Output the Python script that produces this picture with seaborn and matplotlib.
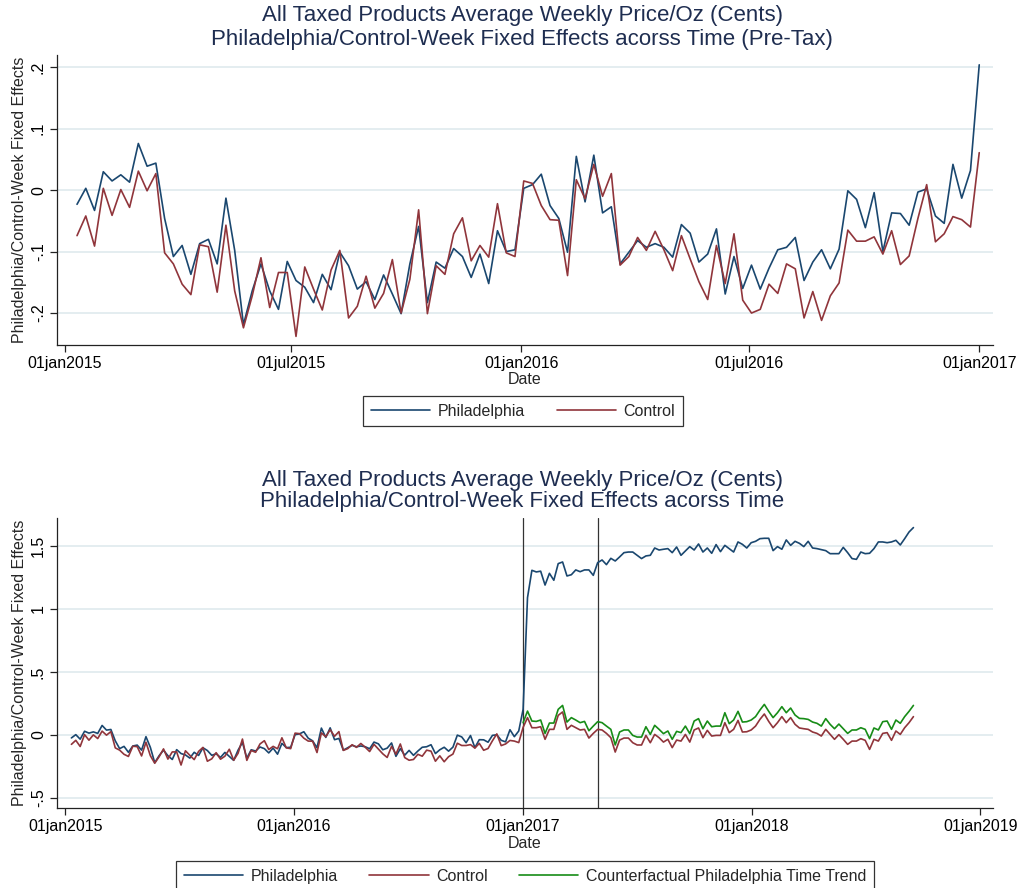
import matplotlib
matplotlib.use("Agg")
import matplotlib.pyplot as plt
from matplotlib.lines import Line2D
import numpy as np
import pandas as pd
import seaborn as sns

sns.set_theme(style="white")
plt.rcParams['font.family'] = ['Liberation Sans', 'DejaVu Sans']

# Weekly fixed effects, pre-tax period (weeks ending 11jan2015 .. 01jan2017)
phila_pre = [
    -0.023, 0.003, -0.033, 0.030, 0.015, 0.025, 0.013, 0.076, 0.039, 0.044,
    -0.046, -0.108, -0.090, -0.137, -0.087, -0.080, -0.120, -0.013, -0.098, -0.219,
    -0.164, -0.120, -0.164, -0.194, -0.116, -0.147, -0.158, -0.183, -0.137, -0.162,
    -0.101, -0.123, -0.161, -0.149, -0.178, -0.138, -0.169, -0.201, -0.120, -0.059,
    -0.183, -0.117, -0.127, -0.095, -0.108, -0.142, -0.104, -0.152, -0.066, -0.100,
    -0.097, 0.003, 0.009, 0.026, -0.025, -0.046, -0.101, 0.055, -0.019, 0.057,
    -0.037, -0.027, -0.120, -0.101, -0.082, -0.093, -0.087, -0.093, -0.109, -0.056,
    -0.070, -0.117, -0.104, -0.063, -0.169, -0.108, -0.160, -0.122, -0.161, -0.127,
    -0.097, -0.093, -0.077, -0.147, -0.117, -0.097, -0.128, -0.096, -0.001, -0.015,
    -0.061, -0.004, -0.100, -0.037, -0.038, -0.057, -0.003, 0.002, -0.042, -0.054,
    0.042, -0.013, 0.032, 0.204,
]
control_pre = [
    -0.074, -0.042, -0.091, 0.003, -0.041, 0.001, -0.028, 0.031, -0.001, 0.027,
    -0.102, -0.120, -0.153, -0.170, -0.089, -0.092, -0.166, -0.057, -0.164, -0.224,
    -0.172, -0.110, -0.191, -0.134, -0.134, -0.238, -0.125, -0.161, -0.195, -0.130,
    -0.098, -0.208, -0.189, -0.140, -0.192, -0.168, -0.113, -0.200, -0.145, -0.032,
    -0.201, -0.123, -0.137, -0.071, -0.045, -0.115, -0.090, -0.109, -0.022, -0.102,
    -0.108, 0.015, 0.011, -0.025, -0.048, -0.049, -0.139, 0.017, -0.014, 0.042,
    -0.010, 0.027, -0.122, -0.108, -0.077, -0.098, -0.067, -0.097, -0.131, -0.074,
    -0.112, -0.149, -0.178, -0.090, -0.152, -0.071, -0.179, -0.200, -0.194, -0.153,
    -0.168, -0.120, -0.128, -0.208, -0.165, -0.212, -0.172, -0.151, -0.065, -0.083,
    -0.083, -0.076, -0.104, -0.066, -0.121, -0.107, -0.046, 0.009, -0.084, -0.071,
    -0.043, -0.048, -0.060, 0.061,
]

# Weekly fixed effects after the tax (08jan2017 onward)
phila_post = [
    1.090, 1.307, 1.294, 1.300, 1.190, 1.283, 1.228, 1.360, 1.373, 1.262,
    1.272, 1.310, 1.296, 1.310, 1.310, 1.267, 1.368, 1.389, 1.352, 1.402,
    1.381, 1.413, 1.447, 1.452, 1.452, 1.426, 1.400, 1.421, 1.426, 1.484,
    1.468, 1.474, 1.479, 1.447, 1.492, 1.426, 1.460, 1.495, 1.468, 1.516,
    1.452, 1.484, 1.442, 1.511, 1.455, 1.505, 1.479, 1.452, 1.532, 1.513,
    1.484, 1.526, 1.537, 1.558, 1.561, 1.561, 1.463, 1.495, 1.474, 1.548,
    1.505, 1.537, 1.521, 1.495, 1.537, 1.484, 1.479, 1.471, 1.463, 1.439,
    1.439, 1.439, 1.489, 1.447, 1.400, 1.394, 1.452, 1.439, 1.442, 1.479,
    1.532, 1.532, 1.526, 1.532, 1.545, 1.508, 1.558, 1.611, 1.646,
]
control_post = [
    0.138, 0.058, 0.058, 0.066, -0.034, 0.045, 0.045, 0.156, 0.183, 0.045,
    0.077, 0.058, 0.040, 0.045, -0.024, 0.013, 0.045, 0.040, 0.013, -0.021,
    -0.135, -0.040, -0.024, -0.024, -0.061, -0.079, -0.079, -0.003, -0.061, 0.005,
    -0.021, -0.056, -0.034, -0.100, -0.040, -0.048, 0.005, -0.056, 0.040, 0.056,
    -0.021, 0.037, -0.008, -0.003, -0.003, 0.098, 0.019, 0.045, 0.116, 0.024,
    0.026, 0.040, 0.071, 0.124, 0.167, 0.108, 0.058, 0.098, 0.146, 0.098,
    0.138, 0.085, 0.056, 0.050, 0.045, 0.024, 0.013, -0.008, 0.045, 0.005,
    -0.034, 0.003, -0.034, -0.074, -0.048, -0.048, -0.029, -0.042, -0.114, -0.034,
    -0.048, 0.013, 0.019, -0.042, 0.032, 0.005, 0.058, 0.098, 0.146,
]
# Counterfactual trend (01jan2017 onward)
counterfactual = [
    0.098,
    0.190, 0.111, 0.108, 0.119, 0.013, 0.095, 0.095, 0.204, 0.235, 0.103,
    0.138, 0.119, 0.098, 0.108, 0.034, 0.071, 0.106, 0.098, 0.071, 0.045,
    -0.079, 0.024, 0.040, 0.040, -0.003, -0.016, -0.016, 0.066, 0.005, 0.077,
    0.045, 0.011, 0.032, -0.034, 0.029, 0.019, 0.071, 0.011, 0.111, 0.130,
    0.050, 0.111, 0.066, 0.071, 0.071, 0.177, 0.090, 0.119, 0.188, 0.103,
    0.106, 0.119, 0.146, 0.198, 0.243, 0.188, 0.138, 0.177, 0.225, 0.177,
    0.214, 0.159, 0.132, 0.130, 0.124, 0.103, 0.093, 0.071, 0.130, 0.085,
    0.050, 0.087, 0.050, 0.013, 0.040, 0.040, 0.058, 0.045, -0.029, 0.056,
    0.040, 0.106, 0.111, 0.045, 0.119, 0.093, 0.146, 0.188, 0.235,
]

first_week = pd.Timestamp("2015-01-11")
tax_start = pd.Timestamp("2017-01-01")
event_line = pd.Timestamp("2017-04-30")

top_ticks = ["2015-01-01", "2015-07-01", "2016-01-01", "2016-07-01", "2017-01-01"]
top_tick_labels = ["01jan2015", "01jul2015", "01jan2016", "01jul2016", "01jan2017"]
bot_ticks = ["2015-01-01", "2016-01-01", "2017-01-01", "2018-01-01", "2019-01-01"]
bot_tick_labels = ["01jan2015", "01jan2016", "01jan2017", "01jan2018", "01jan2019"]
top_yticks = [-0.2, -0.1, 0.0, 0.1, 0.2]
top_ytick_labels = ["-.2", "-.1", "0", ".1", ".2"]
bot_yticks = [-0.5, 0.0, 0.5, 1.0, 1.5]
bot_ytick_labels = ["-.5", "0", ".5", "1", "1.5"]

series_names = ["Philadelphia", "Control", "Counterfactual Philadelphia Time Trend"]
colors = {"Philadelphia": "#1a476f", "Control": "#90353b",
          "Counterfactual Philadelphia Time Trend": "#178c17"}

# Long-format tables
pre_dates = pd.date_range(first_week, periods=len(phila_pre), freq="7D")
top_df = pd.concat([
    pd.DataFrame({"date": pre_dates, "value": phila_pre, "series": "Philadelphia"}),
    pd.DataFrame({"date": pre_dates, "value": control_pre, "series": "Control"}),
])
all_phila = phila_pre + phila_post
all_control = control_pre + control_post
all_dates = pd.date_range(first_week, periods=len(all_phila), freq="7D")
cf_dates = pd.date_range(tax_start, periods=len(counterfactual), freq="7D")
bot_df = pd.concat([
    pd.DataFrame({"date": all_dates, "value": all_phila, "series": "Philadelphia"}),
    pd.DataFrame({"date": all_dates, "value": all_control, "series": "Control"}),
    pd.DataFrame({"date": cf_dates, "value": counterfactual,
                  "series": "Counterfactual Philadelphia Time Trend"}),
])

W, H = 1021, 888
fig = plt.figure(figsize=(W / 100, H / 100), dpi=100)
fig.patch.set_facecolor("white")
ax1 = fig.add_axes([57 / W, 1 - 345 / H, 936 / W, 290 / H])
ax2 = fig.add_axes([57 / W, 1 - 808 / H, 936 / W, 290 / H])

title_color = "#1e2d50"
grid_color = "#e4edf0"
tick_fs = 11.5
title_fs = 16
title_x = 522 / W


def style_axis(ax, xticks, xlabels, yticks, ylabels, xlim, ylim):
    ax.set_facecolor("white")
    for s in ["top", "right"]:
        ax.spines[s].set_visible(False)
    for s in ["left", "bottom"]:
        ax.spines[s].set_color("#222222")
        ax.spines[s].set_linewidth(0.9)
    ax.set_xlim(pd.Timestamp(xlim[0]), pd.Timestamp(xlim[1]))
    ax.set_ylim(*ylim)
    ax.set_xticks([pd.Timestamp(t) for t in xticks])
    ax.set_xticklabels(xlabels, fontsize=tick_fs, color="black")
    ax.set_yticks(yticks)
    ax.set_yticklabels(ylabels, fontsize=tick_fs, color="black", rotation=90, va="center")
    ax.tick_params(axis="both", which="major", direction="out", length=5, width=0.9,
                   color="#222222", bottom=True, left=True, pad=3)
    ax.yaxis.grid(True, color=grid_color, linewidth=1.4)
    ax.xaxis.grid(False)
    ax.set_axisbelow(True)
    ax.set_xlabel("Date", fontsize=tick_fs, labelpad=1)
    ax.set_ylabel("Philadelphia/Control-Week Fixed Effects", fontsize=tick_fs, labelpad=3)


sns.lineplot(data=top_df, x="date", y="value", hue="series", palette=colors,
             hue_order=series_names[:2], linewidth=1.2, ax=ax1, legend=False)
style_axis(ax1, top_ticks, top_tick_labels, top_yticks, top_ytick_labels,
           ("2014-12-26", "2017-01-12"), (-0.252, 0.22))

ax2.axvline(tax_start, color="#333333", linewidth=0.9, zorder=1)
ax2.axvline(event_line, color="#333333", linewidth=0.9, zorder=1)
sns.lineplot(data=bot_df, x="date", y="value", hue="series", palette=colors,
             hue_order=series_names, linewidth=1.2, ax=ax2, legend=False)
style_axis(ax2, bot_ticks, bot_tick_labels, bot_yticks, bot_ytick_labels,
           ("2014-12-19", "2019-01-21"), (-0.579, 1.722))

# Titles
fig.text(title_x, 1 - 15 / H, "All Taxed Products Average Weekly Price/Oz (Cents)",
         ha="center", va="center", fontsize=title_fs, color=title_color)
fig.text(title_x, 1 - 39 / H, "Philadelphia/Control-Week Fixed Effects acorss Time (Pre-Tax)",
         ha="center", va="center", fontsize=title_fs, color=title_color)
fig.text(title_x, 1 - 480 / H, "All Taxed Products Average Weekly Price/Oz (Cents)",
         ha="center", va="center", fontsize=title_fs, color=title_color)
fig.text(title_x, 1 - 502 / H, "Philadelphia/Control-Week Fixed Effects acorss Time",
         ha="center", va="center", fontsize=title_fs, color=title_color)

# Legends
handles = [Line2D([], [], color=colors[n], linewidth=1.2) for n in series_names]
legend_kw = dict(frameon=True, fancybox=False, fontsize=tick_fs, handlelength=3.7,
                 columnspacing=2.0, handletextpad=0.45, borderpad=0.5, borderaxespad=0)

leg1 = fig.legend(handles[:2], series_names[:2], ncol=2, loc="center",
                  bbox_to_anchor=(523 / W, 1 - 411 / H), **legend_kw)
leg2 = fig.legend(handles, series_names, ncol=3, loc="upper center",
                  bbox_to_anchor=(525 / W, 1 - 861 / H), **legend_kw)
for leg in (leg1, leg2):
    leg.get_frame().set_edgecolor("black")
    leg.get_frame().set_linewidth(0.9)

fig.savefig("out.png", dpi=100, facecolor="white")
